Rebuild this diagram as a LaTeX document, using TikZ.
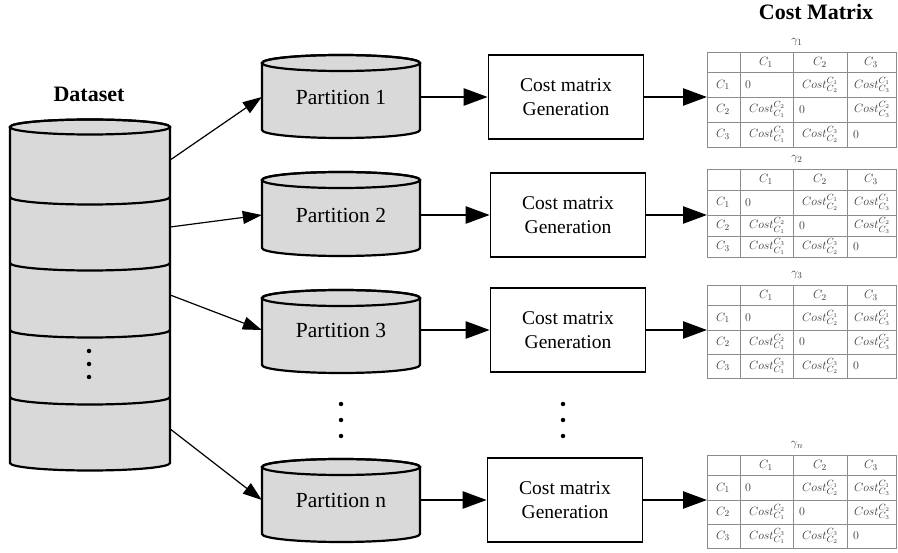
\documentclass[tikz,border=0pt]{standalone}
\usepackage{fontspec}
\setmainfont{Liberation Serif}
\usetikzlibrary{arrows.meta,calc}
\definecolor{cylfill}{HTML}{D9D9D9}
\definecolor{gridgray}{HTML}{8C8C8C}
\definecolor{celltext}{HTML}{3A3A3A}

% cylinder: xl, xr, y top-ellipse centre, y bottom-ellipse centre, ry, rx
\newcommand{\drawcyl}[6]{%
  \filldraw[cyl] (#1,#3) -- (#1,#4) arc[start angle=180,end angle=360,x radius=#6pt,y radius=#5pt]
     -- (#2,#3) arc[start angle=0,end angle=180,x radius=#6pt,y radius=#5pt] -- cycle;
  \draw[cylline] ({(#1+#2)/2},#3) ellipse[x radius=#6pt,y radius=#5pt];
}

% table: name, top, mid (C1/C2 line), bottom, gamma index
\newcommand{\costtable}[5]{%
  \pgfmathsetmacro{\yh}{#2+0.46*(#3-#2)}
  \pgfmathsetmacro{\ytwo}{0.5*(#3+#4)}
  \pgfmathsetmacro{\ra}{0.5*(#2+\yh)}
  \pgfmathsetmacro{\rb}{0.5*(\yh+#3)}
  \pgfmathsetmacro{\rc}{0.5*(#3+\ytwo)}
  \pgfmathsetmacro{\rd}{0.5*(\ytwo+#4)}
  \pgfmathsetmacro{\yg}{#2-10}
  \draw[grid] (707,#2) rectangle (896,#4);
  \draw[grid] (707,\yh) -- (896,\yh) (707,#3) -- (896,#3) (707,\ytwo) -- (896,\ytwo);
  \foreach \xx in {740,793,847} \draw[grid] (\xx,#2) -- (\xx,#4);
  \coordinate (#1) at (707,#3);
  \node[cell] (#1g) at (797,\yg) {$\gamma_{#5}$};
  \node[cell] (#1h1) at (766,\ra) {$C_1$};
  \node[cell] (#1h2) at (820,\ra) {$C_2$};
  \node[cell] (#1h3) at (871,\ra) {$C_3$};
  \node[cell] (#1r1) at (723,\rb) {$C_1$};
  \node[cell] (#1r2) at (723,\rc) {$C_2$};
  \node[cell] (#1r3) at (723,\rd) {$C_3$};
  \node[cell,anchor=west] (#1c11) at (745,\rb) {$0$};
  \node[cell] (#1c12) at (820,\rb) {$Cost^{C_1}_{C_2}$};
  \node[cell] (#1c13) at (872,\rb) {$Cost^{C_1}_{C_3}$};
  \node[cell] (#1c21) at (767,\rc) {$Cost^{C_2}_{C_1}$};
  \node[cell,anchor=west] (#1c22) at (799,\rc) {$0$};
  \node[cell] (#1c23) at (872,\rc) {$Cost^{C_2}_{C_3}$};
  \node[cell] (#1c31) at (767,\rd) {$Cost^{C_3}_{C_1}$};
  \node[cell] (#1c32) at (820,\rd) {$Cost^{C_3}_{C_2}$};
  \node[cell,anchor=west] (#1c33) at (853,\rd) {$0$};
}

\begin{document}
\begin{tikzpicture}[x=1pt,y=-1pt,
  cyl/.style={line width=2.2pt, fill=cylfill, draw=black},
  cylline/.style={line width=2.2pt, draw=black},
  ptext/.style={font=\fontsize{21.5}{24}\selectfont, inner sep=0pt, minimum width=158pt, minimum height=60pt},
  seg/.style={inner sep=0pt, minimum width=160pt, minimum height=64pt},
  genbox/.style={draw, line width=1.6pt, minimum width=155pt, minimum height=84pt, align=center,
                 font=\fontsize{19.5}{24}\selectfont, inner sep=0pt},
  thinarrow/.style={line width=1.2pt, -{Triangle[length=19pt,width=13pt]}},
  thickarrow/.style={line width=2.5pt, -{Triangle[length=24pt,width=17pt]}},
  titletext/.style={font=\bfseries\fontsize{22}{24}\selectfont},
  grid/.style={draw=gridgray, line width=0.9pt},
  cell/.style={font=\fontsize{12.5}{13}\selectfont, text=celltext, inner sep=0pt},
  dotnode/.style={fill, circle, inner sep=0pt, minimum size=4.5pt}
]
\useasboundingbox (0,0) rectangle (898,553);

% titles
\node[titletext] (dstitle) at (89,94) {Dataset};
\node[titletext] (cmtitle) at (816,12) {Cost Matrix};

% dataset cylinder
\drawcyl{10}{170}{127}{463}{7.5}{80}
\foreach \yy in {197,263,330,397}
  \draw[cylline] (10,\yy) arc[start angle=180,end angle=360,x radius=80pt,y radius=7.5pt];
\node[seg] (s1) at (90,160) {};
\node[seg] (s2) at (90,227) {};
\node[seg] (s3) at (90,295) {};
\node[seg] (s4) at (90,363) {};
\node[seg] (s5) at (90,429) {};
\node[dotnode] (dd1) at (89,351) {};
\node[dotnode] (dd2) at (89,364) {};
\node[dotnode] (dd3) at (89,377) {};

% partitions
\drawcyl{262}{420}{63}{130}{8}{79}
\drawcyl{262}{420}{180}{248}{8}{79}
\drawcyl{262}{420}{298}{365}{8}{79}
\drawcyl{262}{420}{467}{534}{8}{79}
\node[ptext] (p1) at (341,97) {Partition 1};
\node[ptext] (p2) at (341,215) {Partition 2};
\node[ptext] (p3) at (341,330) {Partition 3};
\node[ptext] (pn) at (341,500) {Partition n};
\node[dotnode] (pd1) at (341,404) {};
\node[dotnode] (pd2) at (341,420) {};
\node[dotnode] (pd3) at (341,436) {};

% generation boxes
\node[genbox] (b1) at (566,97) {Cost matrix\\Generation};
\node[genbox] (b2) at (568,215) {Cost matrix\\Generation};
\node[genbox] (b3) at (568,330) {Cost matrix\\Generation};
\node[genbox] (bn) at (565,500) {Cost matrix\\Generation};
\node[dotnode] (bd1) at (563,404) {};
\node[dotnode] (bd2) at (563,420) {};
\node[dotnode] (bd3) at (563,436) {};

% cost tables
\costtable{t1}{52}{97}{147}{1}
\costtable{t2}{169}{215}{257}{2}
\costtable{t3}{285}{330}{378}{3}
\costtable{tn}{455}{500}{548}{n}

% connectors
\draw[thinarrow] (s1.east) -- (p1.west);
\draw[thinarrow] (s2.east) -- (p2.west);
\draw[thinarrow] (s3.east) -- (p3.west);
\draw[thinarrow] (s5.east) -- (pn.west);

\draw[thickarrow] (p1.east) -- (b1.west);
\draw[thickarrow] (p2.east) -- (b2.west);
\draw[thickarrow] (p3.east) -- (b3.west);
\draw[thickarrow] (pn.east) -- (bn.west);

\draw[thickarrow] (b1.east) -- (t1);
\draw[thickarrow] (b2.east) -- (t2);
\draw[thickarrow] (b3.east) -- (t3);
\draw[thickarrow] (bn.east) -- (tn);
\end{tikzpicture}
\end{document}
